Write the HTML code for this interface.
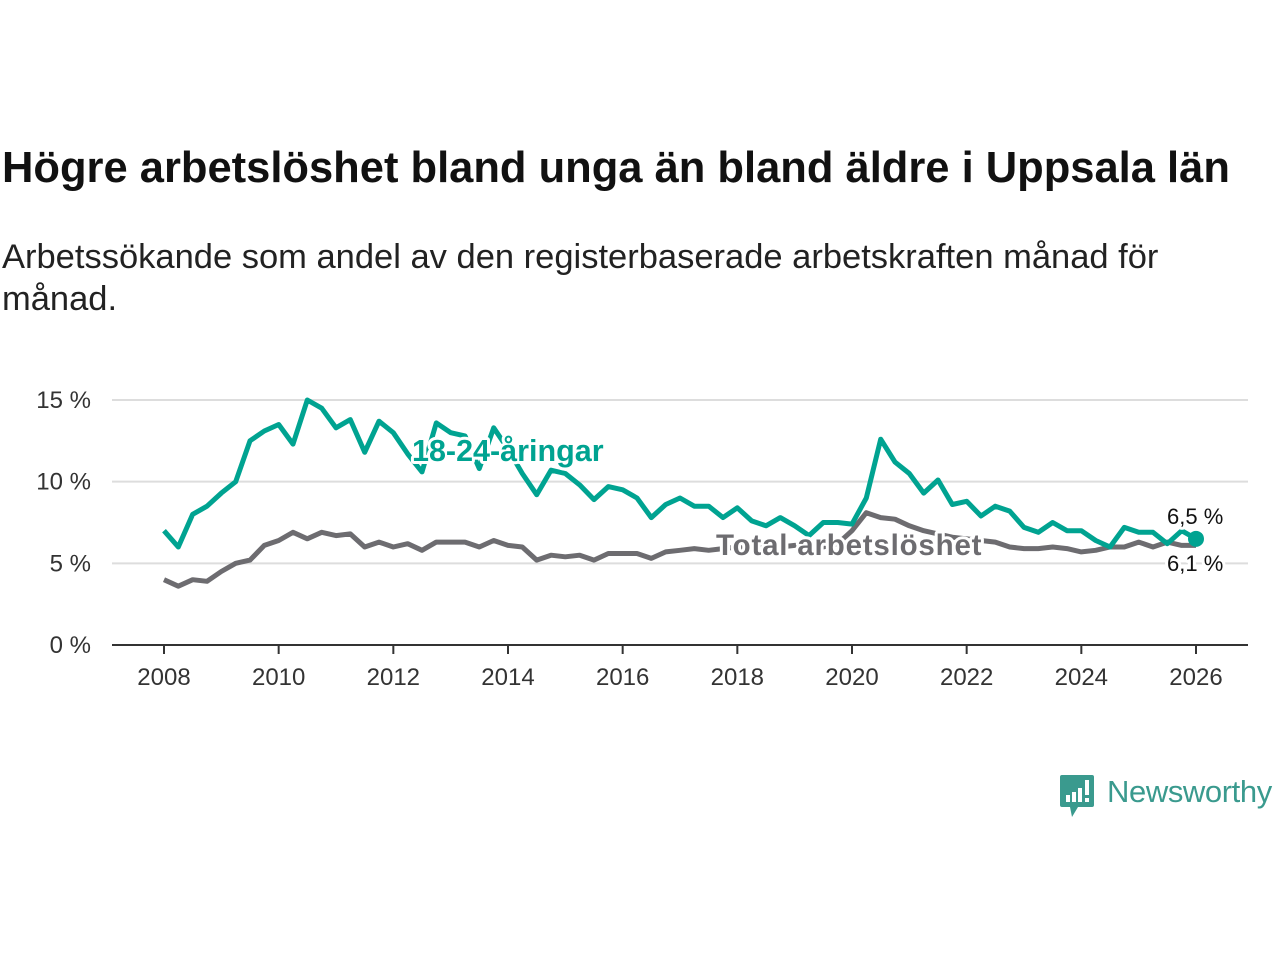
<!DOCTYPE html>
<html><head><meta charset="utf-8">
<style>
body{margin:0;width:1280px;height:960px;background:#fff;font-family:"Liberation Sans",sans-serif;overflow:hidden;position:relative}
h1{position:absolute;left:2px;top:144px;margin:0;font-size:43.5px;font-weight:bold;color:#111;white-space:nowrap}
p.sub{position:absolute;left:2px;top:236px;margin:0;font-size:34.5px;line-height:42px;color:#222;width:1200px}
svg text{font-family:"Liberation Sans",sans-serif}
</style></head><body>
<h1>Högre arbetslöshet bland unga än bland äldre i Uppsala län</h1>
<p class="sub">Arbetssökande som andel av den registerbaserade arbetskraften månad för månad.</p>
<svg id="chart" width="1280" height="960" style="position:absolute;left:0;top:0"></svg>
<div style="position:absolute;left:1060px;top:775px;width:220px;height:45px">
<svg width="36" height="44" style="position:absolute;left:0;top:0"><path d="M2 0h30a2 2 0 0 1 2 2v28a2 2 0 0 1-2 2H18l-6 10l-2-10H2a2 2 0 0 1-2-2V2a2 2 0 0 1 2-2z" fill="#3a9a8e"/><rect x="6" y="20" width="4" height="7" fill="#fff"/><rect x="12" y="17" width="4" height="10" fill="#fff"/><rect x="18" y="13" width="4" height="14" fill="#fff"/><rect x="25" y="5" width="4" height="15" fill="#fff"/><rect x="25" y="23" width="4" height="4" fill="#fff"/></svg>
<span style="position:absolute;left:47px;top:-1px;font-size:31px;color:#3a9a8e;letter-spacing:-0.4px">Newsworthy</span>
</div>
<script>
const years=[2008,2010,2012,2014,2016,2018,2020,2022,2024,2026];
const yTicks=[0,5,10,15];
const youth=[7.0,6.0,8.0,8.5,9.3,10.0,12.5,13.1,13.5,12.3,15.0,14.5,13.3,13.8,11.8,13.7,13.0,11.7,10.6,13.6,13.0,12.8,10.8,13.3,12.0,10.5,9.2,10.7,10.5,9.8,8.9,9.7,9.5,9.0,7.8,8.6,9.0,8.5,8.5,7.8,8.4,7.6,7.3,7.8,7.3,6.7,7.5,7.5,7.4,9.0,12.6,11.2,10.5,9.3,10.1,8.6,8.8,7.9,8.5,8.2,7.2,6.9,7.5,7.0,7.0,6.4,6.0,7.2,6.9,6.9,6.2,7.0,6.5];
const total=[4.0,3.6,4.0,3.9,4.5,5.0,5.2,6.1,6.4,6.9,6.5,6.9,6.7,6.8,6.0,6.3,6.0,6.2,5.8,6.3,6.3,6.3,6.0,6.4,6.1,6.0,5.2,5.5,5.4,5.5,5.2,5.6,5.6,5.6,5.3,5.7,5.8,5.9,5.8,5.9,6.0,6.0,6.0,6.0,6.1,6.1,6.0,6.2,7.0,8.1,7.8,7.7,7.3,7.0,6.8,6.6,6.5,6.4,6.3,6.0,5.9,5.9,6.0,5.9,5.7,5.8,6.0,6.0,6.3,6.0,6.3,6.1,6.1];
const X=t=>164+(t-2008)*(1196-164)/18;
const Y=v=>645-v*(645-400)/15;
const svg=document.getElementById('chart');const NS='http://www.w3.org/2000/svg';
function mk(tag,attrs,txt){const e=document.createElementNS(NS,tag);for(const k in attrs)e.setAttribute(k,attrs[k]);if(txt!==undefined)e.textContent=txt;svg.appendChild(e);return e;}
yTicks.forEach(v=>{
 if(v>0){const g=mk('line',{x1:112,x2:1248,y1:Y(v),y2:Y(v),stroke:'#ddd','stroke-width':2});
 
 }
 const t=mk('text',{x:91,y:Y(v)+8,'text-anchor':'end','font-size':24,fill:'#333'},v+' %');
 
 
});
const ax=mk('line',{x1:112,x2:1248,y1:645,y2:645,stroke:'#333','stroke-width':2});


years.forEach(yr=>{
 const tk=mk('line',{x1:X(yr),x2:X(yr),y1:645,y2:654,stroke:'#333','stroke-width':2});
 
 
 const t=mk('text',{x:X(yr),y:685,'text-anchor':'middle','font-size':24,fill:'#333'},yr);
 
 
});
function path(arr){const n=arr.length;return arr.map((v,i)=>(i?'L':'M')+X(2008+i*18/(n-1)).toFixed(1)+' '+Y(v).toFixed(1)).join('');}
const lt=mk('path',{d:path(total),fill:'none',stroke:'#6d6c70','stroke-width':5,'stroke-linejoin':'round'});


const ly=mk('path',{d:path(youth),fill:'none',stroke:'#00a391','stroke-width':5,'stroke-linejoin':'round'});


const dot=mk('circle',{cx:X(2026),cy:Y(youth[youth.length-1]),r:8,fill:'#00a391'});


const halo={stroke:'#fff','stroke-width':6,'paint-order':'stroke','stroke-linejoin':'round'};
const l1=mk('text',Object.assign({x:412,y:461,'font-size':30.5,'font-weight':'bold',fill:'#00a391'},halo),'18-24-åringar');


const l2=mk('text',Object.assign({x:716,y:555,'font-size':29.5,'font-weight':'bold',fill:'#6d6c70','letter-spacing':'0.8'},halo),'Total arbetslöshet');


const v1=mk('text',Object.assign({x:1167,y:524,'font-size':22,fill:'#111'},halo),'6,5 %');


const v2=mk('text',Object.assign({x:1167,y:571,'font-size':22,fill:'#111'},halo),'6,1 %');


</script>
</body></html>
